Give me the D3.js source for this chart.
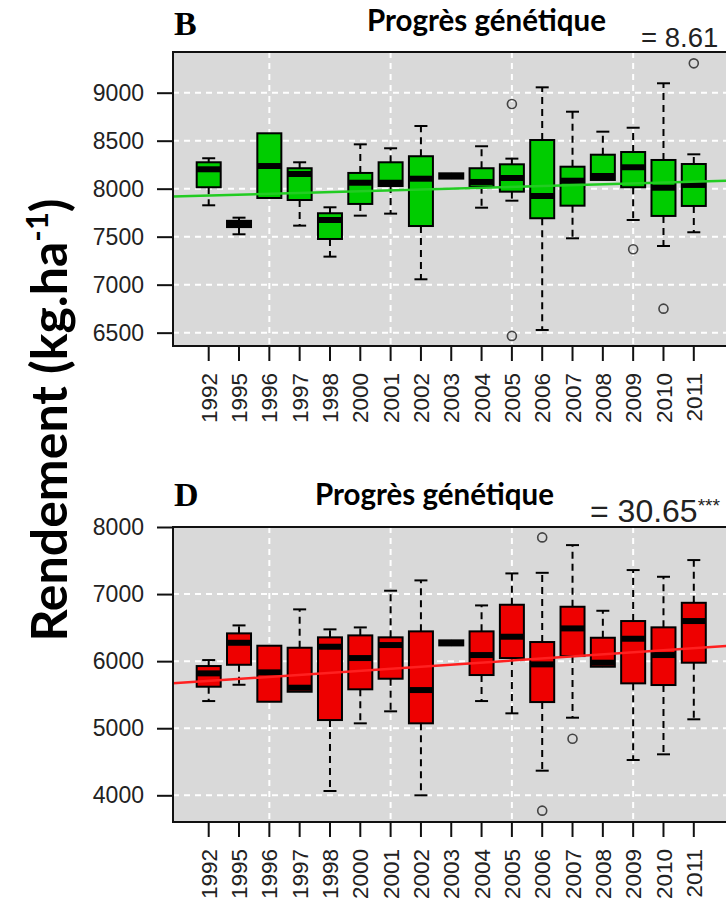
<!DOCTYPE html>
<html>
<head>
<meta charset="utf-8">
<script src="https://cdn.jsdelivr.net/npm/d3@7"></script>
<style>
  html, body { margin: 0; padding: 0; background: #fff; }
  svg { display: block; }
</style>
</head>
<body>
<div id="chart"></div>
<script>
const years = ['1992', '1995', '1996', '1997', '1998', '2000', '2001', '2002', '2003',
    '2004', '2005', '2006', '2007', '2008', '2009', '2010', '2011']

// panel B (green)
const loB  = [7827, 7525, 7903, 7615, 7292, 7719, 7740, 7056, 8105, 7802, 7875, 6528, 7483, 8091, 7674, 7403, 7546]
const q1B  = [8015, 7600, 7903, 7882, 7476, 7841, 8028, 7611, 8105, 8021, 7969, 7692, 7823, 8091, 8015, 7716, 7820]
const medB = [8202, 7632, 8236, 8153, 7674, 8062, 8062, 8104, 8132, 8070, 8111, 7924, 8083, 8132, 8223, 8010, 8039]
const q3B  = [8275, 7665, 8577, 8213, 7744, 8164, 8275, 8338, 8160, 8213, 8254, 8507, 8229, 8354, 8382, 8299, 8257]
const hiB  = [8317, 7698, 8577, 8275, 7806, 8462, 8421, 8653, 8160, 8442, 8313, 9056, 8802, 8594, 8635, 9098, 8358]
const outB = [['2005', 8882], ['2005', 6466], ['2009', 7369], ['2010', 6750], ['2011', 9306]]
const ticksB = [6500, 7000, 7500, 8000, 8500, 9000]
const trendB = [7928, 9.1]   // value at first year, slope per group
const labelB = ['= 8.61', '']

// panel D (red)
const loD  = [5405, 5648, 5395, 5544, 4064, 5073, 5252, 4000, 6235, 5405, 5222, 4367, 5157, 5917, 4526, 4611, 5133]
const q1D  = [5619, 5946, 5395, 5544, 5122, 5580, 5738, 5073, 6235, 5793, 6046, 5390, 6076, 5917, 5669, 5644, 5977]
const medD = [5818, 6274, 5833, 5604, 6215, 6046, 6240, 5569, 6270, 6091, 6364, 5952, 6488, 5977, 6334, 6091, 6598]
const q3D  = [5927, 6414, 6230, 6200, 6355, 6384, 6355, 6444, 6310, 6444, 6841, 6285, 6811, 6349, 6598, 6504, 6870]
const hiD  = [6016, 6533, 6230, 6772, 6474, 6503, 7050, 7204, 6310, 6831, 7308, 7317, 7730, 6751, 7358, 7258, 7507]
const outD = [['2006', 7845], ['2006', 3771], ['2007', 4843]]
const ticksD = [4000, 5000, 6000, 7000, 8000]
const trendD = [5705, 30.46]
const labelD = ['= 30.65', '***']

const title = 'Progrès génétique'

const W = 726, H = 904

const svg = d3.select('#chart').append('svg')
    .attr('width', W)
    .attr('height', H)

// shared x: group index -> px
const xIdx = d3.scaleLinear().domain([0, years.length - 1]).range([208.7, 693.8])
const xYear = y => xIdx(years.indexOf(y))
const boxW = 24
const stapleW = 13

const tickFont = '"Liberation Sans", Arial, sans-serif'
const titleFont = 'Lato, "Open Sans", sans-serif'

function drawPanel(p) {
    const g = svg.append('g')
    const yScale = d3.scaleLinear().domain(p.yDomain).range([p.bottom, p.top])

    const rows = years.map((y, i) => ({
        year: y, lo: p.lo[i], q1: p.q1[i], med: p.med[i], q3: p.q3[i], hi: p.hi[i]
    }))

    // background
    g.append('rect')
        .attr('x', p.left).attr('y', p.top)
        .attr('width', p.right - p.left).attr('height', p.bottom - p.top)
        .attr('fill', '#d9d9d9')

    // grid
    g.selectAll('.hgrid').data(p.ticks).enter().append('line')
        .attr('x1', p.left).attr('x2', p.right)
        .attr('y1', d => yScale(d)).attr('y2', d => yScale(d))
        .attr('stroke', '#fff').attr('stroke-width', 2).attr('stroke-dasharray', '6,5')

    g.selectAll('.vgrid').data([2, 6, 10, 14]).enter().append('line')
        .attr('x1', d => xIdx(d)).attr('x2', d => xIdx(d))
        .attr('y1', p.top).attr('y2', p.bottom)
        .attr('stroke', '#fff').attr('stroke-width', 2).attr('stroke-dasharray', '6,5')

    // whiskers
    const wh = g.selectAll('.wh').data(rows).enter().append('g')
    wh.append('line')
        .attr('x1', d => xYear(d.year)).attr('x2', d => xYear(d.year))
        .attr('y1', d => yScale(d.q3)).attr('y2', d => yScale(d.hi))
        .attr('stroke', '#000').attr('stroke-width', 2).attr('stroke-dasharray', '7,5')
    wh.append('line')
        .attr('x1', d => xYear(d.year)).attr('x2', d => xYear(d.year))
        .attr('y1', d => yScale(d.q1)).attr('y2', d => yScale(d.lo))
        .attr('stroke', '#000').attr('stroke-width', 2).attr('stroke-dasharray', '7,5')
    wh.filter(d => d.hi > d.q3).append('line')
        .attr('x1', d => xYear(d.year) - stapleW / 2).attr('x2', d => xYear(d.year) + stapleW / 2)
        .attr('y1', d => yScale(d.hi)).attr('y2', d => yScale(d.hi))
        .attr('stroke', '#000').attr('stroke-width', 2)
    wh.filter(d => d.lo < d.q1).append('line')
        .attr('x1', d => xYear(d.year) - stapleW / 2).attr('x2', d => xYear(d.year) + stapleW / 2)
        .attr('y1', d => yScale(d.lo)).attr('y2', d => yScale(d.lo))
        .attr('stroke', '#000').attr('stroke-width', 2)

    // boxes
    g.selectAll('.box').data(rows).enter().append('rect')
        .attr('x', d => xYear(d.year) - boxW / 2)
        .attr('y', d => yScale(d.q3))
        .attr('width', boxW)
        .attr('height', d => yScale(d.q1) - yScale(d.q3))
        .attr('fill', p.fill).attr('stroke', '#000').attr('stroke-width', 2)

    g.selectAll('.med').data(rows).enter().append('line')
        .attr('x1', d => xYear(d.year) - boxW / 2).attr('x2', d => xYear(d.year) + boxW / 2)
        .attr('y1', d => yScale(d.med)).attr('y2', d => yScale(d.med))
        .attr('stroke', '#000').attr('stroke-width', 6)

    // outliers
    g.selectAll('.out').data(p.out).enter().append('circle')
        .attr('cx', d => xYear(d[0])).attr('cy', d => yScale(d[1]))
        .attr('r', 4.5)
        .attr('fill', 'none').attr('stroke', '#444').attr('stroke-width', 1.6)

    // trend line across the plot
    const i0 = xIdx.invert(p.left), i1 = xIdx.invert(p.right)
    g.append('line')
        .attr('x1', p.left).attr('x2', p.right)
        .attr('y1', yScale(p.trend[0] + p.trend[1] * i0))
        .attr('y2', yScale(p.trend[0] + p.trend[1] * i1))
        .attr('stroke', p.lineColor).attr('stroke-width', 2.5)

    // frame
    g.append('path')
        .attr('d', `M${p.right},${p.top}H${p.left}V${p.bottom}H${p.right}`)
        .attr('fill', 'none').attr('stroke', '#111').attr('stroke-width', 2)

    // y axis
    const yAxis = d3.axisLeft(yScale).tickValues(p.ticks).tickSize(16).tickPadding(13).tickFormat(d3.format('d'))
    const ya = g.append('g')
        .attr('transform', `translate(${p.left},0)`)
        .call(yAxis)
    ya.select('.domain').remove()
    ya.selectAll('.tick line').attr('stroke', '#111').attr('stroke-width', 2)
    ya.selectAll('.tick text')
        .attr('font-family', tickFont).attr('font-size', 23).attr('fill', '#222')

    // x axis
    const xa = g.append('g')
    xa.selectAll('.xt').data(years).enter().append('line')
        .attr('x1', d => xYear(d)).attr('x2', d => xYear(d))
        .attr('y1', p.bottom).attr('y2', p.bottom + 15)
        .attr('stroke', '#111').attr('stroke-width', 2)
    xa.selectAll('.xl').data(years).enter().append('text')
        .attr('transform', d => `translate(${xYear(d)},${p.bottom + 27}) rotate(-90)`)
        .attr('dy', '0.36em')
        .attr('text-anchor', 'end')
        .attr('font-family', tickFont).attr('font-size', 22.5).attr('fill', '#222')
        .text(d => d)

    // headings
    g.append('text')
        .attr('x', p.left + 1).attr('y', p.letterY)
        .attr('font-family', '"Liberation Serif", "Times New Roman", serif')
        .attr('font-weight', 'bold').attr('font-size', 34)
        .text(p.letter)
    g.append('text')
        .attr('x', p.titleX).attr('y', p.titleY)
        .attr('font-family', titleFont).attr('font-weight', 'bold').attr('font-size', 30)
        .attr('textLength', 239).attr('lengthAdjust', 'spacingAndGlyphs')
        .text(title)
    const lab = g.append('text')
        .attr('x', p.labelX).attr('y', p.labelY)
        .attr('font-family', tickFont).attr('font-size', p.labelSize).attr('fill', '#222')
    lab.append('tspan').text(p.label[0])
    lab.append('tspan').attr('font-size', p.labelSize * 0.6).attr('dy', -p.labelSize * 0.3).text(p.label[1])
}

drawPanel({
    lo: loB, q1: q1B, med: medB, q3: q3B, hi: hiB, out: outB, ticks: ticksB, trend: trendB,
    top: 52, bottom: 346, left: 173, right: 790, yDomain: [6361, 9424],
    fill: '#00cc00', lineColor: '#22cc22',
    letter: 'B', letterY: 35, titleX: 367, titleY: 31,
    label: labelB, labelX: 641, labelY: 47, labelSize: 27.5
})

drawPanel({
    lo: loD, q1: q1D, med: medD, q3: q3D, hi: hiD, out: outD, ticks: ticksD, trend: trendD,
    top: 527, bottom: 822, left: 173, right: 790, yDomain: [3602, 8000],
    fill: '#ee0000', lineColor: '#ff2020',
    letter: 'D', letterY: 506, titleX: 315, titleY: 505,
    label: labelD, labelX: 590, labelY: 522, labelSize: 32
})

// shared y title
const yt = svg.append('text')
    .attr('transform', 'translate(67,420) rotate(-90)')
    .attr('text-anchor', 'middle')
    .attr('font-family', titleFont).attr('font-weight', 'bold').attr('font-size', 50)
    .attr('fill', '#000')
yt.append('tspan').text('Rendement (kg.ha')
yt.append('tspan').attr('dy', -19).attr('font-size', 31).text('-1')
yt.append('tspan').attr('dy', 19).text(')')
</script>
</body>
</html>
